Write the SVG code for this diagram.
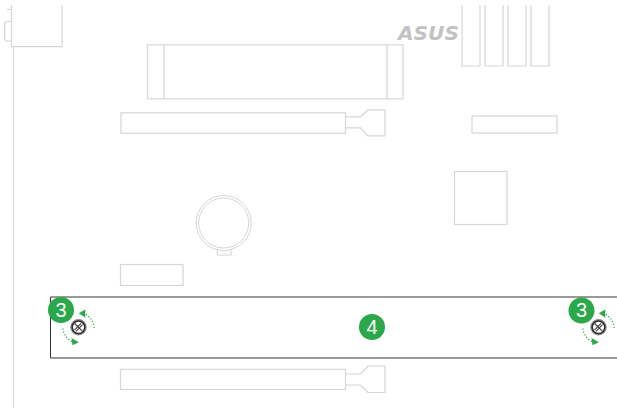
<svg xmlns="http://www.w3.org/2000/svg" width="617" height="408" viewBox="0 0 617 408">
<style>
.o{fill:none;stroke:#d6d6d6;stroke-width:1.2}
.b{fill:#2ba84a}
.t{font-family:"Liberation Sans",Arial,sans-serif;font-size:20px;fill:#fff;text-anchor:middle}
.d{fill:none;stroke:#2ba84a;stroke-width:1.1;stroke-dasharray:1.3 1.7}
.h{fill:#2ba84a}
</style>
<defs>
<g id="screw">
<circle r="8.200" fill="#8a8a8a"/>
<circle r="6.300" fill="#fff" stroke="#2c2c2c" stroke-width="1.500"/>
<path d="M-4 2.600L2.600-4M-2.600 4L4-2.600M-3.800 -3.800L3.800 3.800" stroke="#444" stroke-width="1.200" fill="none"/>
</g>
<g id="arrows">
<path class="d" d="M15.500 0.500C15 -6 11.500 -11 6.500 -13.500"/>
<path class="h" d="M0.200 -14.200L6.800 -18L6.800 -10Z"/>
<path class="d" d="M-15.500 1C-15 7 -11.500 11.500 -6.500 14"/>
<path class="h" d="M0.400 14.800L-7 10.600L-6 17.800Z"/>
</g>
</defs>
<g id="board-outline">
<path class="o" d="M13.500 47V408"/>
<path class="o" d="M11.500 5V46.700H62V5"/>
<path class="o" d="M11 9.500H7M11 21.500H7Q4.700 21.500 4.700 24V38.500Q4.700 41 7 41H11"/>
</g>
<g id="m2-slot">
<rect class="o" x="147.500" y="44.800" width="255.500" height="54"/>
<path class="o" d="M164 44.800V98.800M387 44.800V98.800"/>
</g>
<g id="pcie-slot-top">
<rect class="o" x="121" y="112.800" width="224.500" height="20.500"/>
<path class="o" d="M345.500 116.800H360.500L368 109.800H385V135.800H368L360.500 127.800H345.500"/>
</g>
<g id="asus-logo">
<text x="398" y="40" font-family="DejaVu Sans, sans-serif" font-size="19" font-weight="700" font-style="italic" fill="#c2c2c2" textLength="61" lengthAdjust="spacingAndGlyphs">ASUS</text>
</g>
<g id="ram-slots">
<path class="o" d="M462 5V66H480V5"/>
<path class="o" d="M485 5V66H503V5"/>
<path class="o" d="M508 5V66H526V5"/>
<path class="o" d="M531 5V66H549V5"/>
</g>
<g id="header">
<rect class="o" x="472" y="116" width="85" height="17"/>
</g>
<g id="chip">
<rect class="o" x="454.500" y="171.500" width="52.500" height="53"/>
</g>
<g id="battery">
<circle cx="223.700" cy="223" r="27.500" fill="none" stroke="#d6d6d6" stroke-width="1"/>
<circle cx="223.700" cy="223" r="25" fill="none" stroke="#d6d6d6" stroke-width="1"/>
<path class="o" d="M217.300 249.500V255H231V249.500"/>
</g>
<g id="small-header">
<rect class="o" x="120.500" y="264.500" width="62.500" height="21"/>
</g>
<g id="pcie-slot-bottom">
<rect class="o" x="120.500" y="369.300" width="225" height="20.200"/>
<path class="o" d="M345.500 374H360.500L368 366H385V392.500H368L360.500 385H345.500"/>
</g>
<g id="m2-module">
<path d="M617 297H50.500V358H617" fill="none" stroke="#333" stroke-width="1"/>
</g>
<g id="connectors">
<use href="#arrows" x="78.500" y="327.500"/>
<use href="#arrows" x="598.500" y="327.500"/>
</g>
<g id="screw-left"><use href="#screw" x="78.500" y="327.300"/></g>
<g id="screw-right"><use href="#screw" x="598.500" y="327.300"/></g>
<g id="badge-3-left"><circle class="b" cx="61" cy="310" r="13"/><text class="t" x="61" y="316.800">3</text></g>
<g id="badge-3-right"><circle class="b" cx="581.500" cy="310.500" r="13"/><text class="t" x="581.500" y="317.300">3</text></g>
<g id="badge-4"><circle class="b" cx="372" cy="327" r="13"/><text class="t" x="372" y="333.800">4</text></g>
</svg>
